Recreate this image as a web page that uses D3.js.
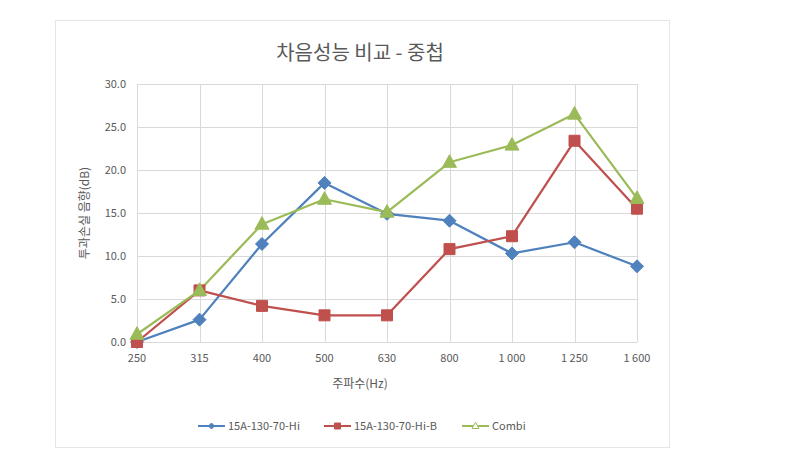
<!DOCTYPE html>
<meta charset="utf-8">
<head>
<title>차음성능 비교 - 중첩</title>
<style>
body { margin: 0; background: #fff; }
svg text { font-family: "Noto Sans CJK KR", "Noto Sans", sans-serif; fill: #595959; }
.grid line { stroke: #d9d9d9; stroke-width: 1; }
.tick-label { font-size: 11px; }
</style>
</head>
<body>
<script src="https://cdn.jsdelivr.net/npm/d3@7/dist/d3.min.js"></script>
<script>

// frequencies (Hz) and measured values (dB)
var categories = ["250", "315", "400", "500", "630", "800", "1 000", "1 250", "1 600"];
var hi   = [0.0, 2.6, 11.4, 18.5, 14.9, 14.1, 10.3, 11.6, 8.8];
var hiB  = [0.0, 6.0, 4.2, 3.1, 3.1, 10.8, 12.3, 23.4, 15.5];
var combi = [0.9, 6.0, 13.7, 16.6, 15.1, 20.9, 22.9, 26.5, 16.7];
var seriesNames = ["15A-130-70-Hi", "15A-130-70-Hi-B", "Combi"];
var yTicks = [0, 5, 10, 15, 20, 25, 30];

var width = 787,
    height = 450;

var series = [
  {name: seriesNames[0], values: hi,    color: "#4f81bd", marker: "diamond"},
  {name: seriesNames[1], values: hiB,   color: "#c0504d", marker: "square"},
  {name: seriesNames[2], values: combi, color: "#9bbb59", marker: "triangle"}
];

var svg = d3.select("body").append("svg")
    .attr("width", width)
    .attr("height", height);

// outer chart frame
svg.append("rect")
    .attr("x", 55.5).attr("y", 20.5)
    .attr("width", 614).attr("height", 427)
    .attr("fill", "#fff")
    .attr("stroke", "#e6e6e6");

var plot = {left: 137, right: 637, top: 84, bottom: 342};

var x = d3.scalePoint()
    .domain(categories)
    .range([plot.left, plot.right]);

var y = d3.scaleLinear()
    .domain([0, 30])
    .range([plot.bottom, plot.top]);

// grid
var grid = svg.append("g").attr("class", "grid");
grid.selectAll("line.h")
    .data(yTicks)
  .enter().append("line")
    .attr("x1", plot.left).attr("x2", plot.right)
    .attr("y1", function(d) { return Math.round(y(d)) + 0.5; })
    .attr("y2", function(d) { return Math.round(y(d)) + 0.5; });
grid.selectAll("line.v")
    .data(categories)
  .enter().append("line")
    .attr("y1", plot.top).attr("y2", plot.bottom)
    .attr("x1", function(d) { return Math.round(x(d)) + 0.5; })
    .attr("x2", function(d) { return Math.round(x(d)) + 0.5; });

// axis labels
svg.append("g").selectAll("text")
    .data(yTicks)
  .enter().append("text")
    .attr("class", "tick-label")
    .attr("x", plot.left - 11)
    .attr("y", function(d) { return y(d); })
    .attr("dy", "0.35em")
    .attr("text-anchor", "end")
    .text(d3.format(".1f"));

svg.append("g").selectAll("text")
    .data(categories)
  .enter().append("text")
    .attr("class", "tick-label")
    .attr("x", function(d) { return x(d); })
    .attr("y", plot.bottom + 20)
    .attr("text-anchor", "middle")
    .text(function(d) { return d; });

svg.append("text")
    .attr("x", 360).attr("y", 60)
    .attr("text-anchor", "middle")
    .style("font-size", "20px")
    .text("차음성능 비교 - 중첩");

svg.append("text")
    .attr("x", 360).attr("y", 388)
    .attr("text-anchor", "middle")
    .style("font-size", "12px")
    .text("주파수(Hz)");

svg.append("text")
    .attr("transform", "translate(89," + (plot.top + plot.bottom) / 2 + ") rotate(-90)")
    .attr("text-anchor", "middle")
    .style("font-size", "12px")
    .text("투과손실 음향(dB)");

// markers
function markerPath(type, r) {
  if (type === "diamond") return "M0," + (-r) + "L" + r + ",0L0," + r + "L" + (-r) + ",0Z";
  if (type === "square") return "M" + (-r) + "," + (-r) + "H" + r + "V" + r + "H" + (-r) + "Z";
  var h = r * 1.8;
  return "M0," + (-h * 0.6) + "L" + r + "," + (h * 0.4) + "L" + (-r) + "," + (h * 0.4) + "Z";
}

var line = d3.line()
    .x(function(d, i) { return x(categories[i]); })
    .y(function(d) { return y(d); });

var lines = svg.append("g");
series.forEach(function(s) {
  lines.append("path")
      .attr("d", line(s.values))
      .attr("fill", "none")
      .attr("stroke", s.color)
      .attr("stroke-width", 2.25)
      .attr("stroke-linejoin", "round");
});
var markerR = {diamond: 6.5, square: 5.5, triangle: 7};
series.forEach(function(s) {
  lines.selectAll(null)
      .data(s.values)
    .enter().append("path")
      .attr("transform", function(d, i) { return "translate(" + x(categories[i]) + "," + y(d) + ")"; })
      .attr("d", markerPath(s.marker, markerR[s.marker]))
      .attr("fill", s.color)
      .attr("stroke", s.color)
      .attr("stroke-width", 1);
});

// legend
var legendX = [198, 324, 462];
var legend = svg.append("g");
series.forEach(function(s, i) {
  var g = legend.append("g").attr("transform", "translate(" + legendX[i] + ",426)");
  g.append("line")
      .attr("x1", 0).attr("x2", 27)
      .attr("stroke", s.color).attr("stroke-width", 2);
  g.append("path")
      .attr("transform", "translate(13.5,0)")
      .attr("d", markerPath(s.marker, s.marker === "triangle" ? 3.5 : 3))
      .attr("fill", s.marker === "triangle" ? "#fff" : s.color)
      .attr("stroke", s.color);
  g.append("text")
      .attr("x", 30).attr("dy", "0.35em")
      .style("font-size", "11px")
      .text(s.name);
});

</script>
</body>
